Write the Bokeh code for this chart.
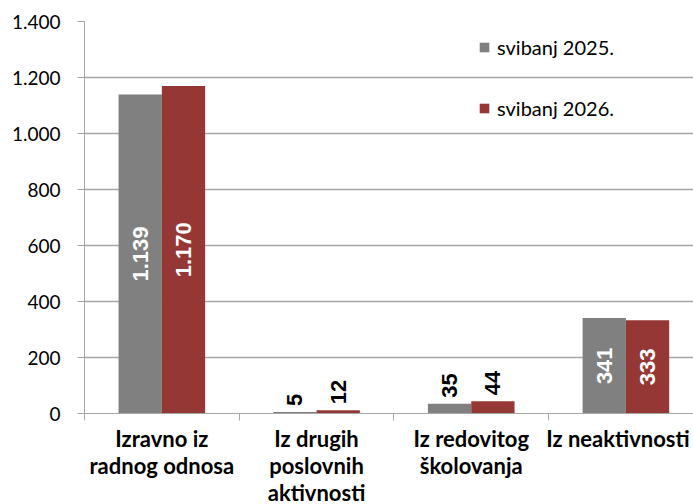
from bokeh.plotting import figure
from bokeh.layouts import column
from bokeh.models import Range1d, FixedTicker, Legend, LegendItem, ColumnDataSource
from bokeh.core.properties import value
from bokeh.embed import file_html
from bokeh.resources import INLINE

# ---- data ----
categories = ["Izravno iz\nradnog odnosa", "Iz drugih\nposlovnih\naktivnosti",
              "Iz redovitog\nškolovanja", "Iz neaktivnosti"]
series_names = ["svibanj 2025.", "svibanj 2026."]
values_2025 = [1139, 5, 35, 341]
values_2026 = [1170, 12, 44, 333]
y_ticks = [0, 200, 400, 600, 800, 1000, 1200, 1400]
y_tick_labels = ["0", "200", "400", "600", "800", "1.000", "1.200", "1.400"]

# ---- style ----
colors = ["#808080", "#953735"]
grid_col = "#a6a6a6"
bar_w = 0.28
centers = [i + 0.5 for i in range(len(categories))]
boundaries = [float(i) for i in range(len(categories))]
label_x_offsets = [0, 0, 0, -8]  # keep the last label inside the page

def fmt(v):
    return f"{v:,}".replace(",", ".")

p = figure(width=693, height=424, output_backend="svg", toolbar_location=None,
           x_range=Range1d(0, 3.937), y_range=Range1d(0, 1400),
           min_border_left=84, min_border_right=0, min_border_top=21, min_border_bottom=11)
p.outline_line_color = None
p.background_fill_color = "white"

renderers = []
inside = dict(x=[], y=[], text=[])
above = dict(x=[], y=[], text=[])
for k, (vals, col, off) in enumerate([(values_2025, colors[0], -bar_w / 2),
                                      (values_2026, colors[1], bar_w / 2)]):
    xs = [c + off for c in centers]
    src = ColumnDataSource(dict(x=xs, top=vals))
    r = p.vbar(x="x", top="top", width=bar_w, source=src, fill_color=col, line_color=None)
    renderers.append(r)
    for x, v in zip(xs, vals):
        if v >= 150:
            inside["x"].append(x); inside["y"].append(v / 2); inside["text"].append(fmt(v))
        else:
            above["x"].append(x); above["y"].append(v); above["text"].append(fmt(v))

p.text(x="x", y="y", text="text", source=ColumnDataSource(inside), angle=1.5708,
       text_align="center", text_baseline="middle", text_color="white",
       text_font=value("Liberation Sans"), text_font_style="bold", text_font_size="22px")
p.text(x="x", y="y", text="text", source=ColumnDataSource(above), angle=1.5708,
       text_align="left", text_baseline="middle", text_color="black", y_offset=-6,
       text_font=value("Liberation Sans"), text_font_style="bold", text_font_size="22px")

legend = Legend(items=[LegendItem(label=series_names[i], renderers=[renderers[i]]) for i in range(2)],
                location=(394, 293))
legend.background_fill_alpha = 0
legend.border_line_alpha = 0
legend.padding = 0
legend.margin = 0
legend.glyph_width = 12
legend.glyph_height = 12
legend.label_height = 24
legend.spacing = 37
legend.label_standoff = 7
legend.label_text_font = "Lato"
legend.label_text_font_size = "20px"
legend.label_text_color = "black"
p.add_layout(legend)

# y axis
yt = FixedTicker(ticks=y_ticks)
p.yaxis.ticker = yt
p.yaxis.major_label_overrides = {t: l for t, l in zip(y_ticks, y_tick_labels)}
p.yaxis.axis_line_color = grid_col
p.yaxis.major_tick_line_color = grid_col
p.yaxis.major_tick_out = 7
p.yaxis.major_tick_in = 0
p.yaxis.minor_tick_line_color = None
p.yaxis.major_label_text_font = "Lato"
p.yaxis.major_label_text_font_size = "19px"
p.yaxis.major_label_text_color = "black"
p.yaxis.major_label_standoff = 17

# x axis: only category separators
p.xaxis.ticker = FixedTicker(ticks=centers, minor_ticks=boundaries)
p.xaxis.major_label_overrides = {c: "" for c in centers}
p.xaxis.axis_line_color = grid_col
p.xaxis.major_tick_line_color = None
p.xaxis.major_tick_out = 0
p.xaxis.major_tick_in = 0
p.xaxis.minor_tick_line_color = grid_col
p.xaxis.minor_tick_out = 7
p.xaxis.minor_tick_in = 0
p.xaxis.major_label_text_font_size = "1px"
p.xaxis.major_label_standoff = 0

p.xgrid.visible = False
p.ygrid.ticker = yt
p.ygrid.grid_line_color = grid_col
p.ygrid.grid_line_width = 1.3

# category labels strip (shares the x scale)
lab_h = 80
p2 = figure(width=693, height=lab_h, output_backend="svg", toolbar_location=None,
            x_range=p.x_range, y_range=Range1d(-lab_h, 0),
            x_axis_location=None, y_axis_location=None,
            min_border_left=84, min_border_right=0, min_border_top=0, min_border_bottom=0)
p2.outline_line_color = None
p2.xgrid.visible = False
p2.ygrid.visible = False
cat_src = ColumnDataSource(dict(x=centers, text=categories, xo=label_x_offsets))
p2.text(x="x", y=0, text="text", x_offset="xo", source=cat_src,
        text_align="center", text_baseline="top",
        text_font=value("Lato"), text_font_style="bold", text_font_size="22px",
        text_color="black", text_line_height=1.0)

layout = column(p, p2, spacing=0)

with open("out.html", "w", encoding="utf-8") as f:
    f.write(file_html(layout, INLINE))
